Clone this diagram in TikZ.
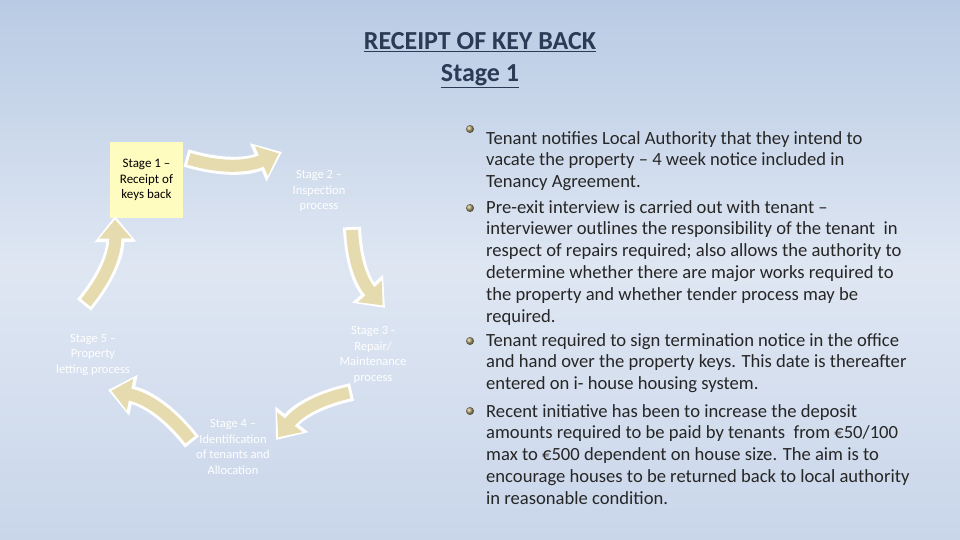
\documentclass[tikz,border=0pt]{standalone}
\usepackage{fontspec}
\setmainfont{Carlito}
\usetikzlibrary{arrows.meta}
\definecolor{bg1}{HTML}{B9CBE4}
\definecolor{bg2}{HTML}{C9D6EA}
\definecolor{tan}{HTML}{E6DBAE}
\definecolor{ttl}{HTML}{2B3A55}
\definecolor{bul}{HTML}{A89A6A}
\tikzset{
  cyc/.style={line width=18pt, draw=white, -{Triangle[length=26pt,width=40pt]}},
  cycin/.style={line width=12pt, draw=tan, shorten >=3.5pt, shorten <=3pt, -{Triangle[length=19pt,width=31pt]}},
  lbl/.style={text=white, font=\fontsize{12.5}{15.5}\selectfont, align=center},
  txt/.style={anchor=north west, align=left, inner sep=0pt, font=\fontsize{18.6}{21.8}\selectfont, text=black!85},
  bl/.style={circle, inner sep=0pt, minimum size=8pt, ball color=bul, draw=none}
}
\begin{document}
\begin{tikzpicture}[x=1pt,y=-1pt]
\useasboundingbox (0,0) rectangle (960,540);
\shade[top color=bg1, bottom color=bg2, middle color=bg2!60!white] (0,0) rectangle (960,540);
\node[font=\bfseries\fontsize{26}{31}\selectfont, text=ttl, align=center] (title) at (480,60) {\underline{RECEIPT OF KEY BACK}\\[1pt]\underline{Stage 1}};
\node[fill=yellow!25, minimum width=73pt, minimum height=76pt, inner sep=0pt, align=center, font=\fontsize{13}{15.5}\selectfont] (s1) at (146.5,180) {Stage 1 --\\Receipt of\\keys back};
\node[lbl] (s2) at (319,191) {Stage 2 --\\Inspection\\process};
\node[lbl] (s3) at (373,355) {Stage 3 -\\Repair/\\Maintenance\\process};
\node[lbl] (s4) at (233,447) {Stage 4 --\\Identification\\of tenants and\\Allocation};
\node[lbl] (s5) at (93,355) {Stage 5 --\\Property\\letting process};
\coordinate (a1s) at (186,158); \coordinate (a1e) at (282,152);
\coordinate (a2s) at (352,227); \coordinate (a2e) at (385,308);
\coordinate (a3s) at (352,392); \coordinate (a3e) at (276,440);
\coordinate (a4s) at (192,442); \coordinate (a4e) at (108,390);
\coordinate (a5s) at (84,305);  \coordinate (a5e) at (115,216);
\foreach \s/\e in {a1s/a1e, a2s/a2e, a3s/a3e, a4s/a4e, a5s/a5e}{
  \draw[cyc] (\s) to[bend left=-20] (\e);
}
\foreach \s/\e in {a1s/a1e, a2s/a2e, a3s/a3e, a4s/a4e, a5s/a5e}{
  \draw[cycin] (\s) to[bend left=-20] (\e);
}
\node[txt] (t1) at (486,131) {Tenant notifies Local Authority that they intend to\\vacate the property -- 4 week notice included in\\Tenancy Agreement.};
\node[txt] (t2) at (486,200) {Pre-exit interview is carried out with tenant --\\interviewer outlines the responsibility of the tenant \ in\\respect of repairs required; also allows the authority to\\determine whether there are major works required to\\the property and whether tender process may be\\required.};
\node[txt] (t3) at (486,333) {Tenant required to sign termination notice in the office\\and hand over the property keys. This date is thereafter\\entered on i- house housing system.};
\node[txt] (t4) at (486,404) {Recent initiative has been to increase the deposit\\amounts required to be paid by tenants \ from €50/100\\max to €500 dependent on house size. The aim is to\\encourage houses to be returned back to local authority\\in reasonable condition.};
\node[bl] (b1) at (470,129) {};
\node[bl] (b2) at (470,208) {};
\node[bl] (b3) at (470,341) {};
\node[bl] (b4) at (470,411) {};
\end{tikzpicture}
\end{document}
